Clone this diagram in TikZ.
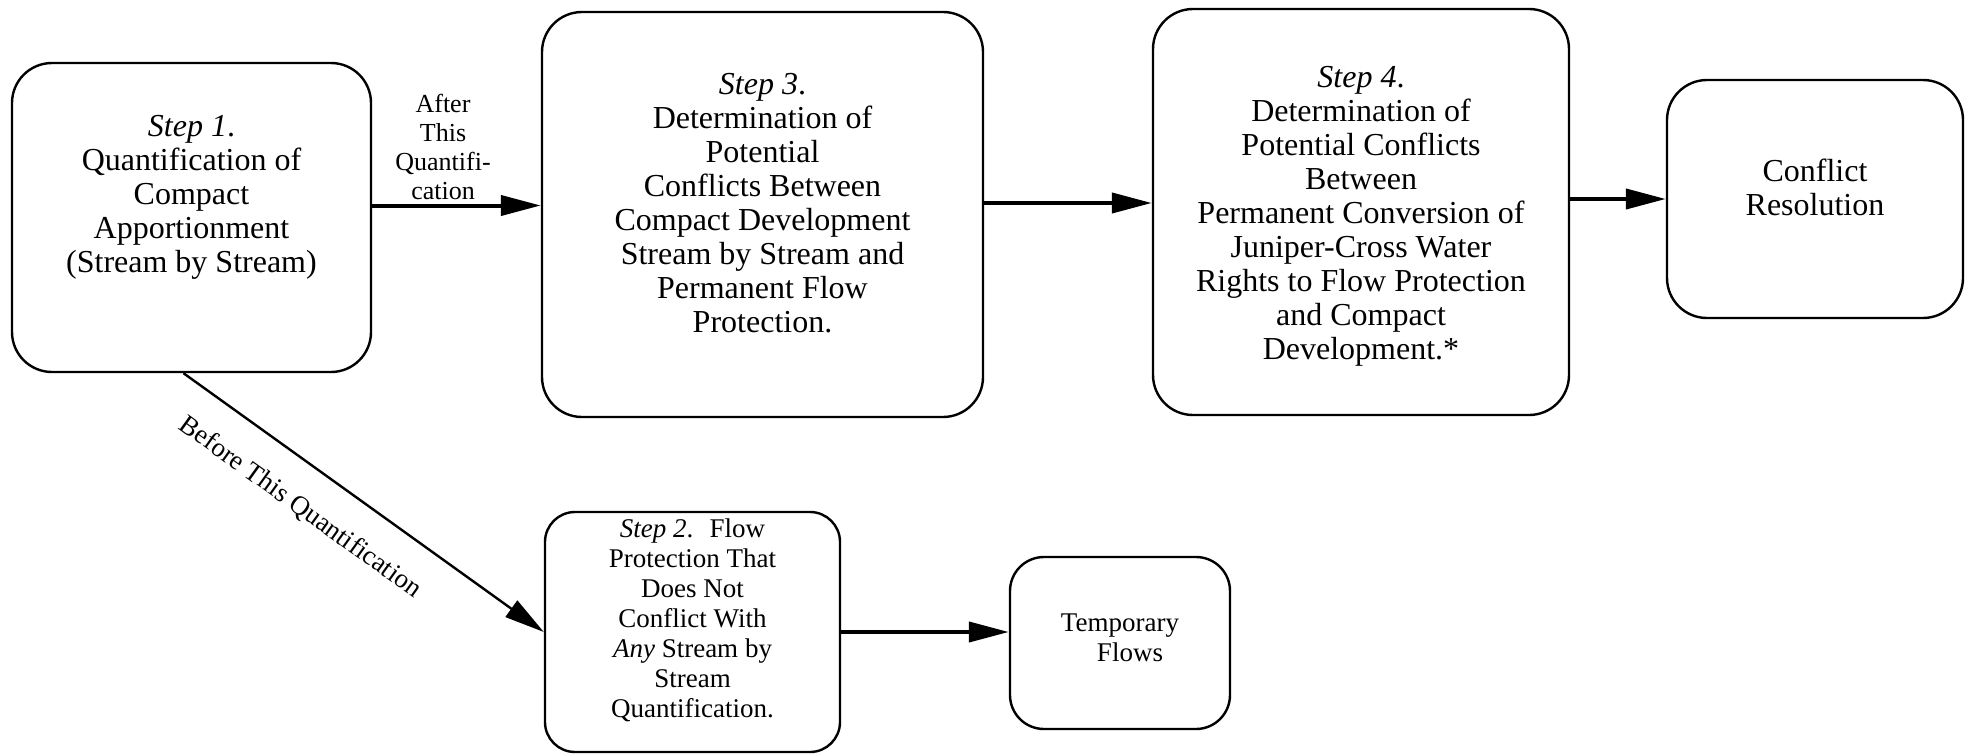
\documentclass[tikz,border=0pt]{standalone}
\usepackage{fontspec}
\setmainfont{Liberation Serif}
\usepackage{tikz}
\usetikzlibrary{arrows.meta,positioning,calc}
\newcommand{\boxfont}{\fontsize{16}{17}\selectfont}
\newcommand{\smallfont}{\fontsize{13.5}{15}\selectfont}
\newcommand{\labfont}{\fontsize{13}{14.5}\selectfont}

\begin{document}
\begin{tikzpicture}[x=0.5pt,y=-0.5pt,
  stepbox/.style={draw,line width=1.2pt,rounded corners=20pt,inner sep=0pt},
  flowarrow/.style={-{Triangle[length=20pt,width=10pt]},line width=2pt},
  thinarrow/.style={-{Triangle[length=20pt,width=10pt]},line width=1.2pt},
  boxtext/.style={align=center,font=\boxfont},
  smalltext/.style={align=center,font=\smallfont}]
  \useasboundingbox (0,0) rectangle (1966,755);

  % Top row
  \node[stepbox,minimum width=179.5pt,minimum height=154.5pt,
    label={[boxtext,yshift=10pt]center:\textit{Step 1}.\\Quantification of\\Compact\\Apportionment\\(Stream by Stream)}]
    (s1) at (191.5,217.5) {};
  \node[stepbox,minimum width=220.5pt,minimum height=202.5pt,
    label={[boxtext,yshift=5.5pt]center:\textit{Step 3}.\\Determination of\\Potential\\Conflicts Between\\Compact Development\\Stream by Stream and\\Permanent Flow\\Protection.}]
    (s3) at (762.5,214.5) {};
  \node[stepbox,minimum width=208pt,minimum height=203pt,
    label={[boxtext,yshift=-2pt]center:\textit{Step 4}.\\Determination of\\Potential Conflicts\\Between\\Permanent Conversion of\\Juniper-Cross Water\\Rights to Flow Protection\\and Compact\\Development.*}]
    (s4) at (1361,212) {};
  \node[stepbox,minimum width=148pt,minimum height=119pt,
    label={[boxtext,yshift=6pt]center:Conflict\\Resolution}]
    (cr) at (1815,199) {};

  % Bottom row
  \node[stepbox,rounded corners=15pt,minimum width=147.5pt,minimum height=120pt,
    label={[smalltext,yshift=6pt]center:\textit{Step 2}.\hspace{0.6em}Flow\\Protection That\\Does Not\\Conflict With\\\textit{Any} Stream by\\Stream\\Quantification.}]
    (s2) at (692.5,632) {};
  \node[stepbox,rounded corners=17pt,minimum width=110pt,minimum height=86pt,
    label={[smalltext,yshift=2.5pt]center:Temporary\\\hspace*{10pt}Flows}]
    (tf) at (1120,643) {};

  % Arrows
  \draw[flowarrow] ([yshift=6pt]s1.east) -- ([yshift=6pt]s1.east -| s3.west)
    node[pos=0.42,above,inner sep=2pt,align=center,font=\labfont]
    {After\\This\\Quantifi-\\cation};
  \draw[flowarrow] ([yshift=5.75pt]s3.east) -- ([yshift=5.75pt]s3.east -| s4.west);
  \draw[flowarrow] (s4.east |- cr.west) -- (cr.west);
  \draw[thinarrow] ([xshift=-4pt]s1.south) -- (s2.west)
    node[pos=0.39,sloped,below,inner sep=14pt,font=\smallfont]
    {Before This Quantification};
  \draw[flowarrow] (s2.east) -- (s2.east -| tf.west);
\end{tikzpicture}
\end{document}
